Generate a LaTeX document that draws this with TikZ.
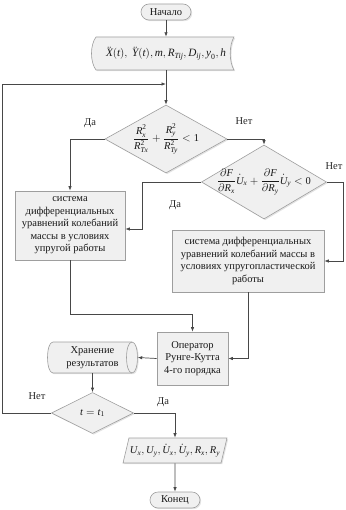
\documentclass[tikz,border=0pt]{standalone}
\usepackage{amsmath}
\usepackage{fontspec}
\setmainfont{Liberation Serif}
\usetikzlibrary{shapes.geometric,arrows.meta,shadows,calc}
\newcommand\vi[1]{\text{\itshape #1}}
\newcommand\vn[1]{\text{\upshape #1}}
\begin{document}
\begin{tikzpicture}[x=1pt,y=-1pt,
  base/.style={draw=black!38, fill=black!6, text=black!90, line width=0.6pt,
    font=\fontsize{10.5}{12.5}\selectfont, align=center, inner sep=2pt,
    drop shadow={shadow xshift=1.2pt, shadow yshift=-1.2pt, opacity=0.22}},
  shp/.style={draw=black!38, fill=black!6, line width=0.6pt,
    drop shadow={shadow xshift=1.2pt, shadow yshift=-1.2pt, opacity=0.22}},
  term/.style={base, rectangle, rounded corners=8pt, minimum width=50pt, minimum height=16pt, inner sep=0pt},
  proc/.style={base, rectangle},
  dec/.style={base, diamond, inner sep=-8pt, aspect=1.7},
  arr/.style={draw=black!72, line width=0.7pt, -{Latex[length=4.5pt,width=3.4pt]}},
  lbl/.style={font=\fontsize{10.5}{12.5}\selectfont, text=black!85, inner sep=0pt, align=center}
]
\useasboundingbox (0,0) rectangle (345,510);

% terminals
\node[term] (start) at (166,12) {Начало};

% input (stored-data like shape)
\path[shp]
  (96,37) -- (234,37) .. controls (229,45) and (229,62) .. (234,70)
  -- (96,70) .. controls (90,62) and (90,45) .. (96,37) -- cycle;
\node[lbl, text=black!90, font=\fontsize{11.2}{13}\selectfont, minimum width=138pt, minimum height=33pt] (inp) at (166,53.5)
  {$\ddot{\vi{X}}(\vi{t}),\ \ddot{\vi{Y}}(\vi{t}), \vi{m}, \vi{R}_{\vi{Tij}}, \vi{D}_{\vi{ij}}, \vi{y}_{\vn{0}}, \vi{h}$};

\coordinate (j1) at (166,84);
\coordinate (loopL) at (2,84);

% decision 1
\node[dec, minimum width=122pt, minimum height=68pt] (d1) at (166,139)
  {$\dfrac{\vi{R}_{\vi{x}}^{\vn{2}}}{\vi{R}_{\vi{Tx}}^{\vn{2}}}+\dfrac{\vi{R}_{\vi{y}}^{\vn{2}}}{\vi{R}_{\vi{Ty}}^{\vn{2}}}<\vn{1}$};

% decision 2
\node[dec, minimum width=125pt, minimum height=74pt] (d2) at (264,182)
  {$\dfrac{\partial \vi{F}}{\partial \vi{R}_{\vi{x}}}\dot{\vi{U}}_{\vi{x}}+\dfrac{\partial \vi{F}}{\partial \vi{R}_{\vi{y}}}\dot{\vi{U}}_{\vi{y}}<\vn{0}$};

% process boxes
\node[proc, minimum width=110pt, minimum height=69pt] (box1) at (70,225.5)
  {система\\дифференциальных\\уравнений колебаний\\массы в условиях\\упругой работы};
\node[proc, minimum width=152pt, minimum height=62pt] (box2) at (248,261)
  {система дифференциальных\\уравнений колебаний массы в\\условиях упругопластической\\работы};
\node[proc, minimum width=71pt, minimum height=53pt] (op) at (192.5,358.5)
  {Оператор\\Рунге-Кутта\\4-го порядка};

% storage (horizontal cylinder)
\path[shp]
  (53,342) -- (132,342) .. controls (139.3,342) and (139.3,373) .. (132,373)
  -- (53,373) .. controls (45.7,373) and (45.7,342) .. (53,342) -- cycle;
\draw[draw=black!38, line width=0.6pt] (132,342) .. controls (124.7,342) and (124.7,373) .. (132,373);
\node[lbl, text=black!90, minimum width=90pt, minimum height=31pt] (store) at (92.5,357.5)
  {Хранение\\результатов};

% decision 3
\node[dec, minimum width=82pt, minimum height=41pt] (d3) at (92.5,413) {$\vi{t}=\vi{t}_{\vn{1}}$};

% output
\node[base, trapezium, trapezium left angle=68, trapezium right angle=112,
      trapezium stretches body, minimum width=100pt, minimum height=25pt, inner sep=1pt] (out) at (175,450.5)
  {$\vi{U}_{\vi{x}}, \vi{U}_{\vi{y}}, \dot{\vi{U}}_{\vi{x}}, \dot{\vi{U}}_{\vi{y}}, \vi{R}_{\vi{x}}, \vi{R}_{\vi{y}}$};

\node[term] (end) at (175,500) {Конец};

% connectors
\draw[arr] (start) -- (inp.north);
\draw[arr] (inp.south) -- (d1.north);
\draw[arr] (d3.west) -| (loopL) -- (j1);
\draw[arr] (d1.west) -| (box1.north);
\draw[arr] (d1.east) -| (d2.north);
\coordinate (k1) at (142,229);
\draw[arr] (d2.west) -| (k1) -- (k1 -| box1.east);
\coordinate (k2) at (343,261);
\draw[arr] (d2.east) -| (k2) -- (box2.east);
\coordinate (k3) at (192.5,314);
\draw[arr] (box1.south) |- (k3) -- (op.north);
\draw[arr] (box2.south) |- (op.east);
\draw[arr] (op.west) -- (store.east);
\draw[arr] (store.south) -- (d3.north);
\draw[arr] (d3.east) -| (out.north);
\draw[arr] (out.south) -- (end.north);

% labels
\node[lbl] (l1) at (90,123) {Да};
\node[lbl] (l2) at (244,121) {Нет};
\node[lbl] (l3) at (175,205) {Да};
\node[lbl] (l4) at (334,166) {Нет};
\node[lbl] (l5) at (37,396) {Нет};
\node[lbl] (l6) at (163,402) {Да};
\end{tikzpicture}
\end{document}
